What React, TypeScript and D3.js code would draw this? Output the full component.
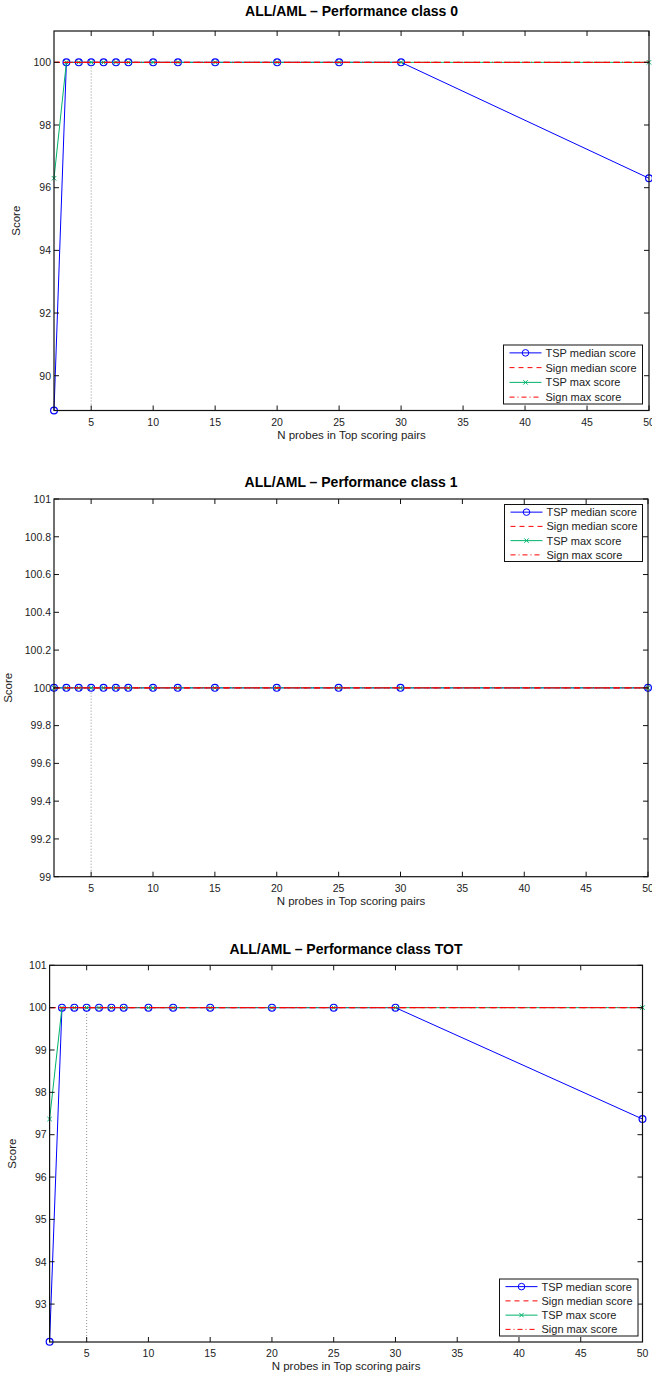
import React, { useRef, useEffect } from 'react';
import * as d3 from 'd3';

// N probes used in the top scoring pairs (x values)
const nProbes = [2, 3, 4, 5, 6, 7, 8, 10, 12, 15, 20, 25, 30, 50];
const xTicks = [5, 10, 15, 20, 25, 30, 35, 40, 45, 50];

// class 0
const class0TspMedian = [88.89, 100, 100, 100, 100, 100, 100, 100, 100, 100, 100, 100, 100, 96.3];
const class0SignMedian = [100, 100, 100, 100, 100, 100, 100, 100, 100, 100, 100, 100, 100, 100];
const class0TspMax = [96.3, 100, 100, 100, 100, 100, 100, 100, 100, 100, 100, 100, 100, 100];
const class0SignMax = [100, 100, 100, 100, 100, 100, 100, 100, 100, 100, 100, 100, 100, 100];
const class0YTicks = [90, 92, 94, 96, 98, 100];

// class 1
const class1TspMedian = [100, 100, 100, 100, 100, 100, 100, 100, 100, 100, 100, 100, 100, 100];
const class1SignMedian = [100, 100, 100, 100, 100, 100, 100, 100, 100, 100, 100, 100, 100, 100];
const class1TspMax = [100, 100, 100, 100, 100, 100, 100, 100, 100, 100, 100, 100, 100, 100];
const class1SignMax = [100, 100, 100, 100, 100, 100, 100, 100, 100, 100, 100, 100, 100, 100];
const class1YTicks = [99, 99.2, 99.4, 99.6, 99.8, 100, 100.2, 100.4, 100.6, 100.8, 101];

// class TOT
const totTspMedian = [92.11, 100, 100, 100, 100, 100, 100, 100, 100, 100, 100, 100, 100, 97.37];
const totSignMedian = [100, 100, 100, 100, 100, 100, 100, 100, 100, 100, 100, 100, 100, 100];
const totTspMax = [97.37, 100, 100, 100, 100, 100, 100, 100, 100, 100, 100, 100, 100, 100];
const totSignMax = [100, 100, 100, 100, 100, 100, 100, 100, 100, 100, 100, 100, 100, 100];
const totYTicks = [93, 94, 95, 96, 97, 98, 99, 100, 101];

const legendLabels = ['TSP median score', 'Sign median score', 'TSP max score', 'Sign max score'];

const BLUE = '#0000ff';
const RED = '#ff0000';
const GREEN = '#00b36b';
const FONT = '"Liberation Sans", Arial, Helvetica, sans-serif';

type Panel = {
  title: string;
  tspMedian: number[];
  signMedian: number[];
  tspMax: number[];
  signMax: number[];
  yDomain: [number, number];
  yTicks: number[];
  box: { top: number; bottom: number; left: number; right: number };
  titleY: number;
  yLabelX: number;
  legend: { x: number; y: number; w: number; h: number };
};

const panels: Panel[] = [
  {
    title: 'ALL/AML \u2013 Performance class 0',
    tspMedian: class0TspMedian, signMedian: class0SignMedian, tspMax: class0TspMax, signMax: class0SignMax,
    yDomain: [88.89, 101], yTicks: class0YTicks,
    box: { top: 31, bottom: 410.5, left: 54, right: 649 },
    titleY: 16, yLabelX: 20,
    legend: { x: 503.5, y: 345, w: 139, h: 59 },
  },
  {
    title: 'ALL/AML \u2013 Performance class 1',
    tspMedian: class1TspMedian, signMedian: class1SignMedian, tspMax: class1TspMax, signMax: class1SignMax,
    yDomain: [99, 101], yTicks: class1YTicks,
    box: { top: 499, bottom: 876.7, left: 54, right: 648 },
    titleY: 487, yLabelX: 12,
    legend: { x: 504.5, y: 504.5, w: 138, h: 57 },
  },
  {
    title: 'ALL/AML \u2013 Performance class TOT',
    tspMedian: totTspMedian, signMedian: totSignMedian, tspMax: totTspMax, signMax: totSignMax,
    yDomain: [92.105, 101], yTicks: totYTicks,
    box: { top: 965.3, bottom: 1342, left: 49.6, right: 642.5 },
    titleY: 954, yLabelX: 16,
    legend: { x: 499.5, y: 1279, w: 138.5, h: 57 },
  },
];

const drawPanel = (svg: d3.Selection<SVGSVGElement, unknown, null, undefined>, p: Panel) => {
  const { top, bottom, left, right } = p.box;
  const x = d3.scaleLinear().domain([2, 50]).range([left, right]);
  const y = d3.scaleLinear().domain(p.yDomain).range([bottom, top]);
  const g = svg.append('g');

  // dotted marker at 5 probes
  g.append('line')
    .attr('x1', x(5)).attr('x2', x(5))
    .attr('y1', y(p.yDomain[0])).attr('y2', y(100))
    .attr('stroke', '#777').attr('stroke-width', 0.8)
    .attr('stroke-dasharray', '1,2');

  const line = (vals: number[]) =>
    d3.line<number>().x((_, i) => x(nProbes[i])).y(d => y(d))(vals) as string;

  // TSP median
  g.append('path').attr('d', line(p.tspMedian)).attr('fill', 'none').attr('stroke', BLUE).attr('stroke-width', 1);
  g.selectAll('circle.med')
    .data(p.tspMedian)
    .enter()
    .append('circle')
    .attr('cx', (_, i) => x(nProbes[i]))
    .attr('cy', d => y(d))
    .attr('r', 3.4)
    .attr('fill', 'none')
    .attr('stroke', BLUE)
    .attr('stroke-width', 1.2);

  // TSP max
  g.append('path').attr('d', line(p.tspMax)).attr('fill', 'none').attr('stroke', GREEN).attr('stroke-width', 1);
  g.selectAll('path.xm')
    .data(p.tspMax)
    .enter()
    .append('path')
    .attr('d', (d, i) => {
      const cx = x(nProbes[i]);
      const cy = y(d);
      const s = 2.2;
      return `M${cx - s},${cy - s}L${cx + s},${cy + s}M${cx - s},${cy + s}L${cx + s},${cy - s}`;
    })
    .attr('stroke', GREEN)
    .attr('stroke-width', 1);

  // Sign median
  g.append('path').attr('d', line(p.signMedian)).attr('fill', 'none').attr('stroke', RED)
    .attr('stroke-width', 1.1).attr('stroke-dasharray', '6,4');

  // Sign max
  g.append('path').attr('d', line(p.signMax)).attr('fill', 'none').attr('stroke', RED)
    .attr('stroke-width', 1).attr('stroke-dasharray', '6,3,1,3');

  // box + ticks on all sides
  const axisColor = '#111';
  g.append('rect')
    .attr('x', left).attr('y', top)
    .attr('width', right - left).attr('height', bottom - top)
    .attr('fill', 'none').attr('stroke', axisColor).attr('stroke-width', 1.2);

  const tl = 5;
  xTicks.forEach(t => {
    g.append('line').attr('x1', x(t)).attr('x2', x(t)).attr('y1', bottom).attr('y2', bottom - tl)
      .attr('stroke', axisColor).attr('stroke-width', 1);
    g.append('line').attr('x1', x(t)).attr('x2', x(t)).attr('y1', top).attr('y2', top + tl)
      .attr('stroke', axisColor).attr('stroke-width', 1);
    g.append('text')
      .attr('x', x(t)).attr('y', bottom + 15)
      .attr('text-anchor', 'middle')
      .style('font-family', FONT).style('font-size', '10.5px').attr('fill', '#222')
      .text(String(t));
  });
  p.yTicks.forEach(t => {
    g.append('line').attr('x1', left).attr('x2', left + tl).attr('y1', y(t)).attr('y2', y(t))
      .attr('stroke', axisColor).attr('stroke-width', 1);
    g.append('line').attr('x1', right).attr('x2', right - tl).attr('y1', y(t)).attr('y2', y(t))
      .attr('stroke', axisColor).attr('stroke-width', 1);
    g.append('text')
      .attr('x', left - 3).attr('y', y(t) + 3.8)
      .attr('text-anchor', 'end')
      .style('font-family', FONT).style('font-size', '10.5px').attr('fill', '#222')
      .text(String(t));
  });

  // labels
  g.append('text')
    .attr('x', (left + right) / 2).attr('y', p.titleY)
    .attr('text-anchor', 'middle')
    .style('font-family', FONT).style('font-size', '14px').style('font-weight', 'bold')
    .text(p.title);
  g.append('text')
    .attr('x', (left + right) / 2).attr('y', bottom + 28)
    .attr('text-anchor', 'middle')
    .style('font-family', FONT).style('font-size', '11.5px').attr('fill', '#222')
    .text('N probes in Top scoring pairs');
  g.append('text')
    .attr('transform', `translate(${p.yLabelX},${(top + bottom) / 2}) rotate(-90)`)
    .attr('text-anchor', 'middle')
    .style('font-family', FONT).style('font-size', '11.5px').attr('fill', '#222')
    .text('Score');

  // legend
  const L = p.legend;
  const lg = g.append('g').attr('transform', `translate(${L.x},${L.y})`);
  lg.append('rect').attr('width', L.w).attr('height', L.h)
    .attr('fill', '#fff').attr('stroke', '#111').attr('stroke-width', 1);
  const rowH = L.h / 4;
  const styles = [
    { c: BLUE, dash: null, mark: 'o' },
    { c: RED, dash: '5,4', mark: '' },
    { c: GREEN, dash: null, mark: 'x' },
    { c: RED, dash: '5,3,1,3', mark: '' },
  ];
  legendLabels.forEach((lab, i) => {
    const cy = rowH * (i + 0.5) + 0.5;
    const st = styles[i];
    const ln = lg.append('line').attr('x1', 6).attr('x2', 38).attr('y1', cy).attr('y2', cy)
      .attr('stroke', st.c).attr('stroke-width', 1);
    if (st.dash) ln.attr('stroke-dasharray', st.dash);
    if (st.mark === 'o') {
      lg.append('circle').attr('cx', 22).attr('cy', cy).attr('r', 3.3)
        .attr('fill', 'none').attr('stroke', st.c).attr('stroke-width', 1);
    } else if (st.mark === 'x') {
      const s = 2.2;
      lg.append('path')
        .attr('d', `M${22 - s},${cy - s}L${22 + s},${cy + s}M${22 - s},${cy + s}L${22 + s},${cy - s}`)
        .attr('stroke', st.c).attr('stroke-width', 1);
    }
    lg.append('text')
      .attr('x', 42).attr('y', cy + 4)
      .style('font-family', FONT).style('font-size', '11px').attr('fill', '#222')
      .text(lab);
  });
};

const App: React.FC = () => {
  const svgRef = useRef<SVGSVGElement | null>(null);

  useEffect(() => {
    const svg = d3.select(svgRef.current as SVGSVGElement);
    svg.selectAll('*').remove();
    svg.append('rect').attr('width', 652).attr('height', 1376).attr('fill', '#fff');
    panels.forEach(p => drawPanel(svg, p));
  }, []);

  return (
    <svg
      ref={svgRef}
      width={652}
      height={1376}
      style={{ position: 'absolute', left: 0, top: 0, display: 'block' }}
    />
  );
};

export default App;
